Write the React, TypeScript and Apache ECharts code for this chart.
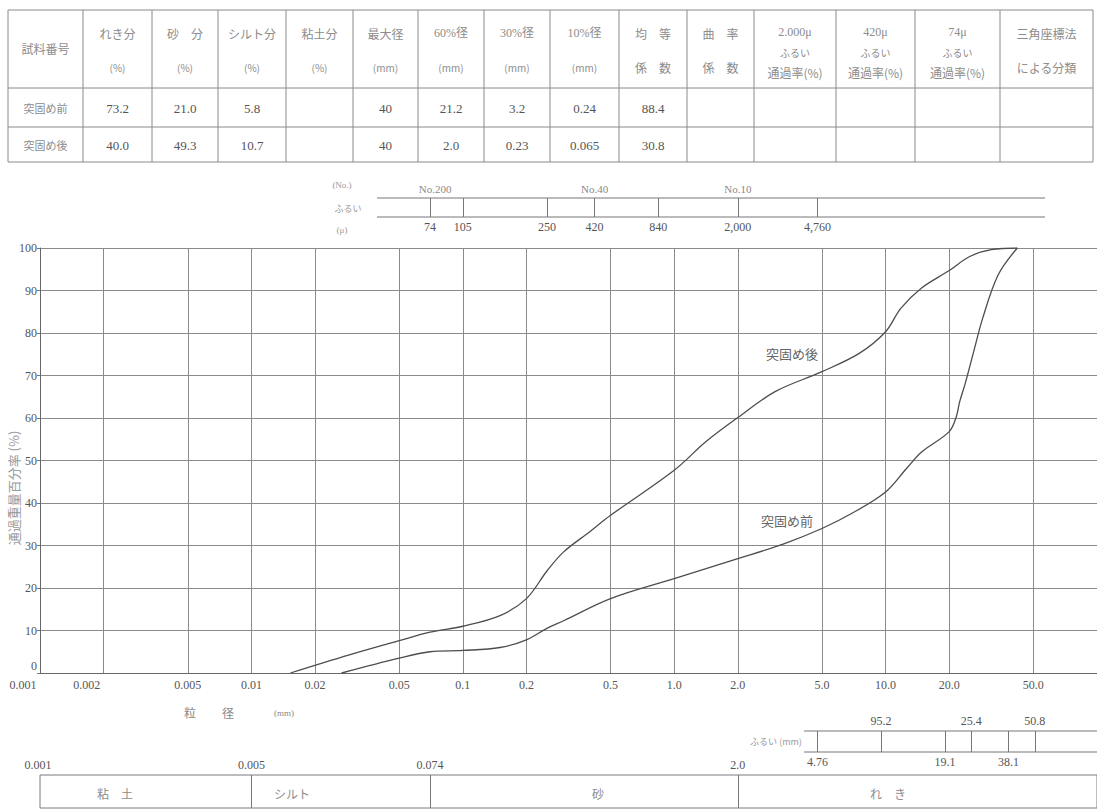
import React, { useEffect, useRef } from "react";
import * as echarts from "echarts";

// ---------- data ----------
const xTicks = [0.001, 0.002, 0.005, 0.01, 0.02, 0.05, 0.1, 0.2, 0.5, 1, 2, 5, 10, 20, 50];
const xTickLabels = ["0.001", "0.002", "0.005", "0.01", "0.02", "0.05", "0.1", "0.2", "0.5", "1.0", "2.0", "5.0", "10.0", "20.0", "50.0"];

// 突固め後 (after compaction): [grain size mm, % passing]
const afterData: [number, number][] = [
  [0.0153, 0], [0.0288, 4.2], [0.05, 7.6], [0.07, 9.6], [0.1, 11], [0.15, 13.5], [0.2, 17.5],
  [0.25, 24], [0.3, 28.5], [0.4, 33.3], [0.5, 37.1], [1.0, 47.7], [1.41, 54.4],
  [2.0, 60.1], [3.0, 66.2], [5.0, 70.9], [7.5, 75.2], [10, 80.3], [11.8, 85.8], [14.8, 90.6],
  [20, 94.7], [25, 98], [31.6, 99.6], [42, 100],
];
// 突固め前 (before compaction)
const beforeData: [number, number][] = [
  [0.0267, 0], [0.05, 3.5], [0.07, 5], [0.1, 5.3], [0.15, 6], [0.2, 7.8], [0.25, 10.5],
  [0.3, 12.3], [0.5, 17.5], [1.0, 22.2], [2.0, 26.9], [3.3, 30.4], [5, 34], [7, 37.7],
  [10, 42.6], [12.5, 48], [14.8, 52], [20, 56.8], [21.6, 60.3], [22.4, 63.8], [23.7, 67.8],
  [26.1, 75.6], [28.8, 83.5], [34.1, 93.7], [42, 100],
];

const topSieveValues = [0.074, 0.105, 0.25, 0.42, 0.84, 2.0, 4.76];
const topSieveLabels = ["74", "105", "250", "420", "840", "2,000", "4,760"];
const sieveNoValues = [0.074, 0.42, 2.0];
const sieveNoLabels = ["No.200", "No.40", "No.10"];

const bottomSieveValues = [4.76, 9.52, 19.1, 25.4, 38.1, 50.8];
const bottomSieveLabels = ["4.76", "95.2", "19.1", "25.4", "38.1", "50.8"];
const bottomSieveAbove = [false, true, false, true, false, true];

const bandBounds = [0.001, 0.005, 0.074, 2.0];
const bandBoundLabels = ["0.001", "0.005", "0.074", "2.0"];
const bandNames = ["粘　土", "シルト", "砂", "れ　き"];

const tableHeaders = [
  ["試料番号"], ["れき分", "(%)"], ["砂　分", "(%)"], ["シルト分", "(%)"], ["粘土分", "(%)"],
  ["最大径", "(mm)"], ["60%径", "(mm)"], ["30%径", "(mm)"], ["10%径", "(mm)"],
  ["均　等", "係　数"], ["曲　率", "係　数"], ["2.000μ", "ふるい", "通過率(%)"],
  ["420μ", "ふるい", "通過率(%)"], ["74μ", "ふるい", "通過率(%)"], ["三角座標法", "による分類"],
];
const rowNames = ["突固め前", "突固め後"];
const beforeRow = ["73.2", "21.0", "5.8", "", "40", "21.2", "3.2", "0.24", "88.4", "", "", "", "", ""];
const afterRow = ["40.0", "49.3", "10.7", "", "40", "2.0", "0.23", "0.065", "30.8", "", "", "", "", ""];

// ---------- layout ----------
const SERIF = "'Liberation Serif','Noto Sans CJK JP',serif";
const CJK = "'Noto Sans CJK JP','Liberation Serif',sans-serif";
const colX = [8, 83, 152, 218, 286, 353, 418, 484, 550, 619, 687, 754, 836, 915, 1000, 1093];
const rowY = [10, 88, 127, 162];
const lineCol = "#8a8a8a";

function nearestIdx(arr: number[], v: number) {
  let b = 0, bd = Infinity;
  arr.forEach((t, i) => {
    const d = Math.abs(Math.log10(t) - Math.log10(v));
    if (d < bd) { bd = d; b = i; }
  });
  return b;
}

function txt(x: number, y: number, text: string, size: number, fill: string, font = CJK, extra: any = {}) {
  return {
    type: "text", x, y, silent: true, ...extra,
    style: { text, fill, fontSize: size, fontFamily: font, align: "center", verticalAlign: "middle" },
  };
}
function ln(x1: number, y1: number, x2: number, y2: number, stroke = lineCol) {
  return { type: "line", silent: true, shape: { x1, y1, x2, y2 }, style: { stroke, lineWidth: 1 } };
}

function buildGraphic() {
  const g: any[] = [];
  // table
  rowY.forEach((y) => g.push(ln(colX[0], y, colX[colX.length - 1], y)));
  colX.forEach((x) => g.push(ln(x, rowY[0], x, rowY[rowY.length - 1])));
  tableHeaders.forEach((lines, c) => {
    const cx = (colX[c] + colX[c + 1]) / 2;
    const ys = lines.length === 1 ? [48] : lines.length === 2 ? [33, 67] : [32, 52, 72];
    lines.forEach((t, k) => {
      const small = (lines.length === 2 && t.startsWith("(")) || (lines.length === 3 && k === 1);
      const isNum = /^[0-9]/.test(t);
      g.push(txt(cx, ys[k], t, small ? 10 : 12, "#8c8c8c", isNum ? SERIF : CJK));
    });
  });
  [beforeRow, afterRow].forEach((row, r) => {
    const cy = r === 0 ? 108 : 145;
    g.push(txt((colX[0] + colX[1]) / 2, cy, rowNames[r], 11, "#8c8c8c"));
    row.forEach((v, c) => {
      if (v) g.push(txt((colX[c + 1] + colX[c + 2]) / 2, cy, v, 13, "#555", SERIF));
    });
  });
  // top sieve rails and captions
  g.push(ln(377, 198, 1045, 198, "#777"));
  g.push(ln(377, 217, 1045, 217, "#777"));
  g.push(txt(342, 185, "(No.)", 9, "#999", SERIF));
  g.push(txt(348, 208, "ふるい", 9, "#999"));
  g.push(txt(342, 230, "(μ)", 9, "#999", SERIF));
  // bottom sieve rails
  g.push(ln(804, 731, 1097, 731, "#777"));
  g.push(ln(804, 752, 1097, 752, "#777"));
  g.push(txt(776, 741, "ふるい (mm)", 9, "#999"));
  // band: first boundary label (at the grid's left edge) and names
  g.push(txt(38, 765, bandBoundLabels[0], 12, "#555", SERIF));
  const bandX = [115, 292, 598, 888];
  bandNames.forEach((n, i) => g.push(txt(bandX[i], 793, n, 12, "#8c8c8c")));
  // axis titles
  g.push(txt(190, 712, "粒", 12, "#888"));
  g.push(txt(228, 712, "径", 12, "#888"));
  g.push(txt(284, 713, "(mm)", 9, "#888", SERIF));
  g.push(txt(13, 488, "通過重量百分率 (%)", 13, "#999", CJK, { rotation: Math.PI / 2 }));
  // curve annotations
  g.push(txt(792, 353, "突固め後", 13, "#666"));
  g.push(txt(787, 520, "突固め前", 13, "#666"));
  return g;
}

const markBase = {
  silent: true,
  symbol: ["none", "none"],
  animation: false,
  lineStyle: { type: "solid", color: "#777", width: 1 },
  emphasis: { disabled: true },
};

export default function App() {
  const ref = useRef<HTMLDivElement>(null);
  useEffect(() => {
    if (!ref.current) return;
    const chart = echarts.init(ref.current, undefined, { renderer: "svg" });
    const hiddenLog = (gi: number) => ({ type: "log", logBase: 10, gridIndex: gi, min: 0.001, max: 100, show: false });
    const hiddenVal = (gi: number) => ({ type: "value", gridIndex: gi, min: 0, max: 1, show: false });
    const curve = (name: string, data: [number, number][]) => ({
      name, type: "line", xAxisIndex: 0, yAxisIndex: 0, data, smooth: 0.35, symbol: "none",
      lineStyle: { color: "#4d4d4d", width: 1.3 }, silent: true,
    });
    const option: any = {
      animation: false,
      backgroundColor: "#ffffff",
      grid: [
        { left: 40, top: 248, width: 1065, height: 425 },
        { left: 40, top: 198, width: 1065, height: 19 },
        { left: 40, top: 731, width: 1065, height: 21 },
        { left: 40, top: 775, width: 1065, height: 33, show: true, borderColor: "#7a7a7a", borderWidth: 1 },
      ],
      xAxis: [
        {
          type: "log", logBase: 10, gridIndex: 0, min: 0.001, max: 100,
          axisLine: { show: true, onZero: false, lineStyle: { color: "#666", width: 1 } },
          axisTick: { show: false, customValues: xTicks },
          splitLine: { show: true, lineStyle: { color: lineCol, width: 1 } },
          minorSplitLine: { show: false },
          axisLabel: {
            customValues: xTicks, margin: 6, color: "#555", fontSize: 12, fontFamily: SERIF,
            formatter: (v: number) => {
              const i = nearestIdx(xTicks, v);
              return i < 2 ? `{l|${xTickLabels[i]}}` : xTickLabels[i];
            },
            rich: { l: { padding: [0, 34, 0, 0], color: "#555", fontSize: 12, fontFamily: SERIF } },
          },
        },
        hiddenLog(1), hiddenLog(2), hiddenLog(3),
      ],
      yAxis: [
        {
          type: "value", gridIndex: 0, min: 0, max: 100, interval: 10,
          axisLine: { show: true, lineStyle: { color: "#666", width: 1 } },
          axisTick: { show: true, length: 3, lineStyle: { color: "#777" } },
          splitLine: { show: true, lineStyle: { color: lineCol, width: 1 } },
          axisLabel: {
            margin: 3, color: "#555", fontSize: 12, fontFamily: SERIF,
            formatter: (v: number) => (v === 0 ? "{z|0}" : String(v)),
            rich: { z: { padding: [0, 0, 14, 0], color: "#555", fontSize: 12, fontFamily: SERIF } },
          },
        },
        hiddenVal(1), hiddenVal(2), hiddenVal(3),
      ],
      graphic: buildGraphic(),
      series: [
        curve("突固め後", afterData),
        curve("突固め前", beforeData),
        {
          name: "sieveTop", type: "line", xAxisIndex: 1, yAxisIndex: 1, data: [], silent: true,
          markLine: {
            ...markBase,
            label: { position: "start", distance: 4, color: "#555", fontSize: 12, fontFamily: SERIF },
            data: topSieveValues.map((v, i) => ({ xAxis: v, label: { formatter: topSieveLabels[i] } })),
          },
        },
        {
          name: "sieveNo", type: "scatter", xAxisIndex: 1, yAxisIndex: 1, silent: true,
          data: sieveNoValues.map((v) => [v, 1]), symbolSize: 1,
          itemStyle: { color: "rgba(0,0,0,0)" },
          label: {
            show: true, position: "top", distance: 3, color: "#666", fontSize: 11, fontFamily: SERIF,
            formatter: (p: any) => sieveNoLabels[p.dataIndex],
          },
        },
        {
          name: "sieveBottom", type: "line", xAxisIndex: 2, yAxisIndex: 2, data: [], silent: true,
          markLine: {
            ...markBase,
            label: { distance: 4, color: "#555", fontSize: 12, fontFamily: SERIF },
            data: bottomSieveValues.map((v, i) => ({
              xAxis: v, label: { formatter: bottomSieveLabels[i], position: bottomSieveAbove[i] ? "end" : "start" },
            })),
          },
        },
        {
          name: "band", type: "line", xAxisIndex: 3, yAxisIndex: 3, data: [], silent: true,
          markLine: {
            ...markBase,
            label: { position: "end", distance: 4, color: "#555", fontSize: 12, fontFamily: SERIF },
            data: bandBounds.slice(1).map((v, i) => ({ xAxis: v, label: { formatter: bandBoundLabels[i + 1] } })),
          },
        },
      ],
    };
    chart.setOption(option);
    return () => chart.dispose();
  }, []);
  return (
    <div
      ref={ref}
      style={{ position: "fixed", left: 0, top: 0, width: 1097, height: 812, background: "#fff" }}
    />
  );
}
